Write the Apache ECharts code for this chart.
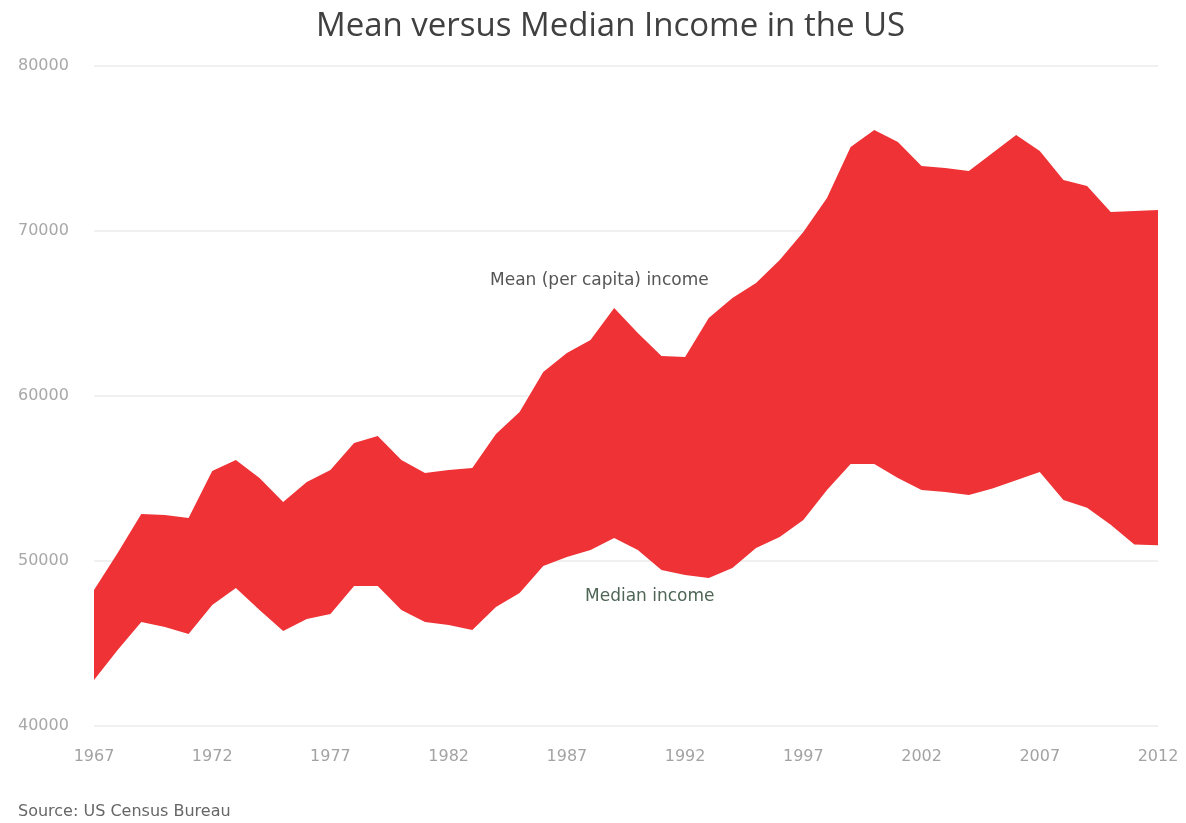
<!DOCTYPE html>
<html>
<head>
<meta charset="utf-8">
<script src="https://cdn.jsdelivr.net/npm/echarts@6/dist/echarts.min.js"></script>
<style>
html,body{margin:0;padding:0;background:#fff;}
#chart{width:1186px;height:823px;}
</style>
</head>
<body>
<div id="chart"></div>
<script>
const years = ["1967","1968","1969","1970","1971","1972","1973","1974","1975","1976","1977","1978","1979","1980","1981","1982","1983","1984","1985","1986","1987","1988","1989","1990","1991","1992","1993","1994","1995","1996","1997","1998","1999","2000","2001","2002","2003","2004","2005","2006","2007","2008","2009","2010","2011","2012"];
const meanIncome = [48240,50480,52850,52790,52600,55450,56120,55030,53580,54790,55520,57150,57580,56120,55330,55520,55640,57700,59030,61450,62600,63390,65330,63820,62420,62360,64730,65940,66850,68240,69940,72000,75090,76120,75390,73940,73820,73640,74730,75820,74850,73090,72730,71150,71210,71270];
const medianIncome = [42790,44610,46300,46000,45580,47330,48360,47030,45760,46480,46790,48480,48480,47030,46300,46120,45820,47210,48060,49700,50240,50670,51390,50670,49450,49150,48970,49580,50790,51450,52480,54300,55880,55880,55030,54300,54180,54000,54400,54900,55400,53700,53230,52200,51000,50950];
const yTicks = [40000,50000,60000,70000,80000];

const gap = meanIncome.map((m, i) => m - medianIncome[i]);

const chart = echarts.init(document.getElementById('chart'), null, {renderer: 'canvas'});
chart.setOption({
  animation: false,
  backgroundColor: '#ffffff',
  title: {
    text: 'Mean versus Median Income in the US',
    left: 311,
    top: 5,
    textStyle: {fontFamily: 'Open Sans', fontSize: 33, fontWeight: 'normal', color: '#404040'}
  },
  grid: {left: 94, right: 28, top: 66, bottom: 97, containLabel: false},
  xAxis: {
    type: 'category',
    data: years,
    boundaryGap: false,
    axisLine: {show: false},
    axisTick: {show: false},
    axisLabel: {interval: 4, color: '#a3a3a3', fontFamily: 'DejaVu Sans', fontSize: 16, margin: 23}
  },
  yAxis: {
    type: 'value',
    min: yTicks[0],
    max: yTicks[yTicks.length - 1],
    interval: 10000,
    axisLine: {show: false},
    axisTick: {show: false},
    axisLabel: {color: '#a8a8a8', fontFamily: 'DejaVu Sans', fontSize: 16, align: 'left', margin: 76,
      formatter: v => String(v)},
    splitLine: {lineStyle: {color: '#f0f0f0', width: 2}}
  },
  series: [
    {
      name: 'Median income',
      type: 'line',
      stack: 'band',
      data: medianIncome,
      symbol: 'none',
      lineStyle: {width: 0, opacity: 0},
      areaStyle: {opacity: 0},
      silent: true
    },
    {
      name: 'Mean (per capita) income',
      type: 'line',
      stack: 'band',
      data: gap,
      symbol: 'none',
      lineStyle: {width: 0, opacity: 0},
      areaStyle: {color: '#ef3235', opacity: 1},
      silent: true
    }
  ],
  graphic: [
    {type: 'text', left: 490, top: 272, style: {text: 'Mean (per capita) income', fill: '#555', font: '17px "DejaVu Sans"'}},
    {type: 'text', left: 585, top: 588, style: {text: 'Median income', fill: '#4f6656', font: '17px "DejaVu Sans"'}},
    {type: 'text', left: 18, top: 804, style: {text: 'Source: US Census Bureau', fill: '#666', font: '16px "DejaVu Sans"'}}
  ]
});
</script>
</body>
</html>
